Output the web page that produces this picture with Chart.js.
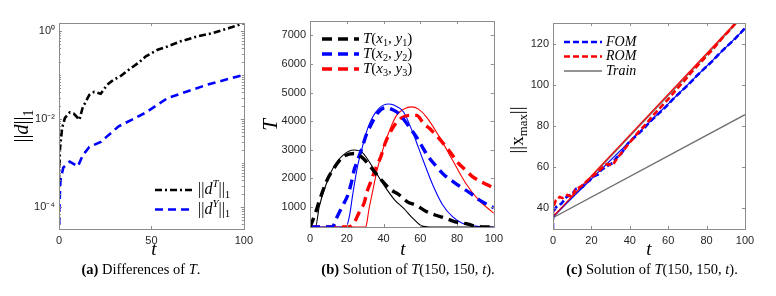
<!DOCTYPE html>
<html>
<head>
<meta charset="utf-8">
<script src="https://cdn.jsdelivr.net/npm/chart.js@4.4.1/dist/chart.umd.min.js"></script>
<style>
  body { margin:0; background:#fff; width:776px; height:296px; overflow:hidden; position:relative; }
  canvas { position:absolute; top:0; }
  .cap { position:absolute; top:261px; font-family:"Liberation Serif","DejaVu Serif",serif; font-size:14.5px; color:#000; white-space:nowrap; transform:translateX(-50%); }
</style>
</head>
<body>
<canvas id="ca" width="258" height="262" style="left:0px"></canvas>
<canvas id="cb" width="250" height="262" style="left:258px"></canvas>
<canvas id="cc" width="268" height="262" style="left:508px"></canvas>
<div class="cap" style="left:141px"><b>(a)</b> Differences of <i>T</i>.</div>
<div class="cap" style="left:408px"><b>(b)</b> Solution of <i>T</i>(150, 150, <i>t</i>).</div>
<div class="cap" style="left:652px"><b>(c)</b> Solution of <i>T</i>(150, 150, <i>t</i>).</div>
<script>
// (a) differences, log scale
const tDT = [0, 0.5, 1, 1.7, 3.2, 5.8, 8, 9.5, 11, 12.8, 16.4, 19, 22.6, 26, 29.6, 33, 37.6, 42.9, 47, 53.4, 58.7, 65.8, 74.6, 83.4, 92, 100];
const dT  = [3.8e-4, 2.0e-3, 3.3e-3, 6.3e-3, 1.05e-2, 1.4e-2, 1.32e-2, 1.12e-2, 9.5e-3, 1.8e-2, 3.5e-2, 4.1e-2, 3.7e-2, 5.9e-2, 7.8e-2, 9.1e-2, 0.129, 0.186, 0.263, 0.37, 0.44, 0.575, 0.74, 0.89, 1.15, 1.48];
const tDY = [0, 0.3, 0.8, 2.3, 5.8, 10.2, 12.9, 16.4, 22.6, 26, 32.3, 39.3, 46.4, 53.4, 58.7, 69.3, 79.9, 90.5, 100];
const dY  = [1e-5, 1.3e-4, 4e-4, 7.8e-4, 1.07e-3, 8.3e-4, 1.5e-3, 2.3e-3, 3.0e-3, 4.0e-3, 6.8e-3, 9.5e-3, 1.35e-2, 2.1e-2, 2.95e-2, 4.2e-2, 5.9e-2, 7.8e-2, 0.1];
const logTicks = [1e-4, 1e-2, 1];

// (b) temperature at three points
const tT1s = [0, 3, 5, 9, 12.5, 18, 24, 28.5, 34, 39, 46, 51, 56, 61, 65, 100];
const T1s  = [300, 300, 1000, 1830, 2350, 2810, 2990, 2900, 2400, 1880, 1250, 950, 600, 330, 300, 300];
const tT1d = [0, 1, 3, 5, 9, 13, 18, 24, 28, 33, 38, 44, 48, 53, 58, 63, 68, 74, 79, 86, 90, 95, 100];
const T1d  = [300, 450, 800, 1200, 1900, 2350, 2750, 2870, 2750, 2400, 2000, 1600, 1450, 1180, 1050, 850, 720, 600, 480, 400, 330, 300, 300];
const tT2s = [0, 19.6, 21.5, 23.2, 25.8, 28.5, 32, 37.4, 42.8, 45.5, 50.8, 56.1, 61.5, 66.8, 72.2, 77.5, 82.9, 90, 96, 100];
const T2s  = [300, 300, 700, 1420, 2400, 3100, 3860, 4440, 4600, 4560, 4330, 3570, 2640, 1770, 1070, 660, 430, 330, 300, 300];
const tT2d = [0, 12, 14.5, 18, 20.5, 22.5, 24, 26, 28.5, 30.5, 33, 37, 41, 45, 48, 54, 59, 62, 65, 69, 73, 78, 82, 87, 92, 96, 100];
const T2d  = [300, 300, 620, 1080, 1400, 1850, 2290, 2650, 3100, 3500, 3850, 4300, 4470, 4400, 4280, 3800, 3340, 3000, 2700, 2400, 2120, 1880, 1700, 1490, 1250, 1100, 970];
const tT3s = [0, 30.3, 31, 32, 33.9, 36.5, 40.1, 43.7, 47.2, 51, 55.3, 59, 63.3, 70.4, 77.5, 84.7, 91.8, 98.9, 100];
const T3s  = [300, 300, 480, 895, 1490, 2290, 3100, 3745, 4210, 4420, 4500, 4420, 4150, 3450, 2640, 1830, 1240, 840, 780];
const tT3d = [0, 21, 24, 27, 29.5, 31, 33, 35.8, 38.5, 41, 44, 47, 50, 54, 58, 62, 65, 68, 71, 74, 77.5, 80, 84, 88, 92, 96, 100];
const T3d  = [300, 300, 450, 850, 1150, 1530, 1870, 2360, 2750, 3250, 3650, 3950, 4120, 4200, 4200, 3900, 3750, 3550, 3340, 3100, 2810, 2580, 2330, 2080, 1920, 1790, 1660];
const tempTicks = [1000, 2000, 3000, 4000, 5000, 6000, 7000];

// (c) max front position
const tFit = [0, 100];
const romFit = [36, 135];
const fomFit = [36, 127.2];
const trainUp = [35.5, 134.2];
const trainLo = [35.5, 85.5];
const tFom = [0, 0, 1.5, 4.5, 7, 10, 12, 15.5, 17, 19, 21, 23.5, 25, 28, 31, 33, 35.5, 39, 43, 47, 51, 55, 59, 63, 67, 71, 75, 79, 83, 87, 91, 95, 100];
const fom  = [30, 38, 40.5, 42.5, 45.5, 47, 49.5, 50.5, 52.5, 53.5, 55.5, 56.5, 58.5, 60.5, 62, 64.5, 66.5, 71.5, 75, 78.5, 82.5, 86, 89.5, 93.5, 97, 100.5, 104.5, 108, 111.5, 115.5, 119, 122.5, 127.5];
const tRom = [0, 0, 1.5, 3.5, 5, 7.5, 10, 11.5, 15, 18, 20.5, 23, 26, 28, 31, 34, 37, 40, 44, 48, 52, 56, 60, 64, 68, 72, 76, 80, 84, 88, 92, 96, 100];
const rom  = [37, 40, 44, 45.5, 45, 46.5, 45.5, 49, 51, 53.5, 55.5, 57.5, 60, 61.5, 61, 65, 68.5, 72, 76.5, 80.5, 85, 89, 93, 97.5, 101.5, 106, 110, 114, 118, 122.5, 126.5, 131, 135];
const posTicks = [40, 60, 80, 100, 120];

const SERIF = '"Liberation Serif","DejaVu Serif",serif';
const TICKC = '#262626';
const TICKFONT = { family: '"Liberation Sans", Arial, sans-serif', size: 11 };

function pts(ts, vs) { return ts.map((t, i) => ({ x: t, y: vs[i] })); }
function line(ts, vs, color, width, dash, smooth) {
  return {
    data: pts(ts, vs), borderColor: color, borderWidth: width, borderDash: dash || [],
    pointRadius: 0, fill: false, tension: 0,
    cubicInterpolationMode: smooth ? 'monotone' : 'default'
  };
}

// draws text pieces: n normal, i italic, b subscript, p superscript (add i for italic)
function drawRich(ctx, segs, x, y, size, center) {
  ctx.textBaseline = 'middle'; ctx.textAlign = 'left'; ctx.fillStyle = '#000';
  const parts = segs.map(([t, k]) => {
    let fs = size, dy = 0;
    const st = k.includes('i') ? 'italic ' : '';
    if (k[0] === 'b') { fs = size * 0.68; dy = size * 0.3; }
    if (k[0] === 'p') { fs = size * 0.68; dy = -size * 0.36; }
    const font = st + fs.toFixed(1) + 'px ' + SERIF;
    ctx.font = font;
    return { t, font, dy, w: ctx.measureText(t).width };
  });
  if (center) x -= parts.reduce((s, p) => s + p.w, 0) / 2;
  parts.forEach(p => { ctx.font = p.font; ctx.fillText(p.t, x, y + p.dy); x += p.w; });
}

const extras = {
  ca: {
    legend: { x: 155, y: 190, len: 39, gap: 4, rowH: 19.5, size: 16, items: [
      { ds: 0, segs: [['||','n'],['d','i'],['T','pi'],['||','n'],['1','b']] },
      { ds: 1, segs: [['||','n'],['d','i'],['Y','pi'],['||','n'],['1','b']] }
    ] },
    titles: [
      { x: 23, y: 126, rot: true, size: 20, segs: [['||','n'],['d','i'],['||','n'],['1','b']] },
      { x: 154, y: 250, size: 19, segs: [['t','i']] }
    ]
  },
  cb: {
    legend: { x: 64, y: 39, len: 37, gap: 4, rowH: 15, size: 15, items: [
      { ds: 0, segs: [['T','i'],['(','n'],['x','i'],['1','b'],[', ','n'],['y','i'],['1','b'],[')','n']] },
      { ds: 1, segs: [['T','i'],['(','n'],['x','i'],['2','b'],[', ','n'],['y','i'],['2','b'],[')','n']] },
      { ds: 2, segs: [['T','i'],['(','n'],['x','i'],['3','b'],[', ','n'],['y','i'],['3','b'],[')','n']] }
    ] },
    titles: [
      { x: 13, y: 125, rot: true, size: 21, segs: [['T','i']] },
      { x: 145, y: 250, size: 19, segs: [['t','i']] }
    ]
  },
  cc: {
    legend: { x: 56, y: 42, len: 38, gap: 4, rowH: 14.5, size: 14, items: [
      { ds: 1, segs: [['FOM','i']] },
      { ds: 0, segs: [['ROM','i']] },
      { ds: 4, segs: [['Train','i']] }
    ] },
    titles: [
      { x: 10, y: 130, rot: true, size: 19, segs: [['||','n'],['x','n'],['max','b'],['||','n']] },
      { x: 141, y: 250, size: 19, segs: [['t','i']] }
    ]
  }
};

const framePlugin = {
  id: 'frame',
  afterDatasetsDraw(chart) {
    const { ctx, chartArea: a, scales } = chart;
    ctx.save();
    ctx.strokeStyle = '#8c8c8c'; ctx.lineWidth = 1; ctx.setLineDash([]);
    ctx.strokeRect(Math.round(a.left) + 0.5, Math.round(a.top) + 0.5, Math.round(a.right - a.left), Math.round(a.bottom - a.top));
    ctx.beginPath();
    scales.x.ticks.forEach(t => {
      const px = Math.round(scales.x.getPixelForValue(t.value)) + 0.5;
      ctx.moveTo(px, a.bottom); ctx.lineTo(px, a.bottom - 3);
      ctx.moveTo(px, a.top); ctx.lineTo(px, a.top + 3);
    });
    scales.y.ticks.forEach(t => {
      const py = Math.round(scales.y.getPixelForValue(t.value)) + 0.5;
      ctx.moveTo(a.left, py); ctx.lineTo(a.left + 3, py);
      ctx.moveTo(a.right, py); ctx.lineTo(a.right - 3, py);
    });
    if (scales.y.type === 'logarithmic') {
      for (let e = -5; e <= 0; e++) {
        for (let m = 1; m <= 9; m++) {
          const v = m * Math.pow(10, e);
          if (v < scales.y.min || v > scales.y.max) continue;
          const py = Math.round(scales.y.getPixelForValue(v)) + 0.5;
          ctx.moveTo(a.left, py); ctx.lineTo(a.left + 2, py);
          ctx.moveTo(a.right, py); ctx.lineTo(a.right - 2, py);
        }
      }
    }
    ctx.stroke();
    ctx.restore();
  },
  afterDraw(chart) {
    const ex = extras[chart.canvas.id];
    if (!ex) return;
    const ctx = chart.ctx;
    ctx.save();
    const L = ex.legend;
    L.items.forEach((it, i) => {
      const ds = chart.data.datasets[it.ds];
      const y = L.y + i * L.rowH;
      ctx.strokeStyle = ds.borderColor; ctx.lineWidth = ds.borderWidth;
      ctx.setLineDash(ds.borderDash || []);
      ctx.beginPath(); ctx.moveTo(L.x, y); ctx.lineTo(L.x + L.len, y); ctx.stroke();
      ctx.setLineDash([]);
      drawRich(ctx, it.segs, L.x + L.len + L.gap, y, L.size, false);
    });
    ex.titles.forEach(t => {
      ctx.save();
      ctx.translate(t.x, t.y);
      if (t.rot) ctx.rotate(-Math.PI / 2);
      drawRich(ctx, t.segs, 0, 0, t.size, true);
      ctx.restore();
    });
    ctx.restore();
  }
};

function axes(xMin, xMax, xTicks, yOpts, yTicks, yLabel, yW, xH) {
  return {
    x: {
      type: 'linear', min: xMin, max: xMax,
      grid: { display: false, drawTicks: false }, border: { display: false },
      ticks: { color: TICKC, font: TICKFONT, padding: 5, maxRotation: 0 },
      afterBuildTicks: s => { s.ticks = xTicks.map(v => ({ value: v })); },
      afterFit: s => { s.height = xH; }
    },
    y: Object.assign({
      grid: { display: false, drawTicks: false }, border: { display: false },
      ticks: { color: TICKC, font: TICKFONT, padding: 4, callback: yLabel },
      afterBuildTicks: s => { s.ticks = yTicks.map(v => ({ value: v })); },
      afterFit: s => { s.width = yW; }
    }, yOpts)
  };
}

function baseOptions(pad, scales) {
  return {
    responsive: false, animation: false, maintainAspectRatio: false,
    layout: { padding: pad },
    plugins: { legend: { display: false }, tooltip: { enabled: false } },
    scales
  };
}

const supMap = { '-4': '10⁻⁴', '-2': '10⁻²', '0': '10⁰' };

new Chart(document.getElementById('ca'), {
  type: 'line',
  data: { datasets: [
    line(tDT, dT, '#000000', 2.6, [7, 3, 2, 3], false),
    line(tDY, dY, '#0000ff', 2.6, [8, 5], false)
  ] },
  options: baseOptions({ left: 0, right: 10, top: 23, bottom: 0 },
    axes(0, 100, [0, 50, 100], { type: 'logarithmic', min: 3.16e-5, max: 1.5 }, logTicks,
      v => supMap[String(Math.round(Math.log10(v)))] || '', 59, 33)),
  plugins: [framePlugin]
});

new Chart(document.getElementById('cb'), {
  type: 'line',
  data: { datasets: [
    line(tT1d, T1d, '#000000', 3.4, [10, 6], true),
    line(tT2d, T2d, '#0000ff', 3.4, [10, 6], true),
    line(tT3d, T3d, '#ff0000', 3.4, [10, 6], true),
    line(tT1s, T1s, '#000000', 1.1, [], true),
    line(tT2s, T2s, '#0000ff', 1.1, [], true),
    line(tT3s, T3s, '#ff0000', 1.1, [], true)
  ] },
  options: baseOptions({ left: 0, right: 11, top: 21, bottom: 0 },
    axes(0, 100, [0, 20, 40, 60, 80, 100], { type: 'linear', min: 300, max: 7500 }, tempTicks,
      v => String(v), 52, 35)),
  plugins: [framePlugin]
});

new Chart(document.getElementById('cc'), {
  type: 'line',
  data: { datasets: [
    line(tRom, rom, '#ff0000', 2.6, [6, 3], false),
    line(tFom, fom, '#0000ff', 2.6, [6, 3], false),
    line(tFit, romFit, '#ff0000', 1.2, [], false),
    line(tFit, fomFit, '#0000ff', 1.2, [], false),
    line(tFit, trainUp, '#707070', 1.3, [], false),
    line(tFit, trainLo, '#707070', 1.3, [], false)
  ] },
  options: baseOptions({ left: 0, right: 31, top: 23, bottom: 0 },
    axes(0, 100, [0, 20, 40, 60, 80, 100], { type: 'linear', min: 30, max: 130 }, posTicks,
      v => String(v), 45, 33)),
  plugins: [framePlugin]
});
</script>
</body>
</html>
